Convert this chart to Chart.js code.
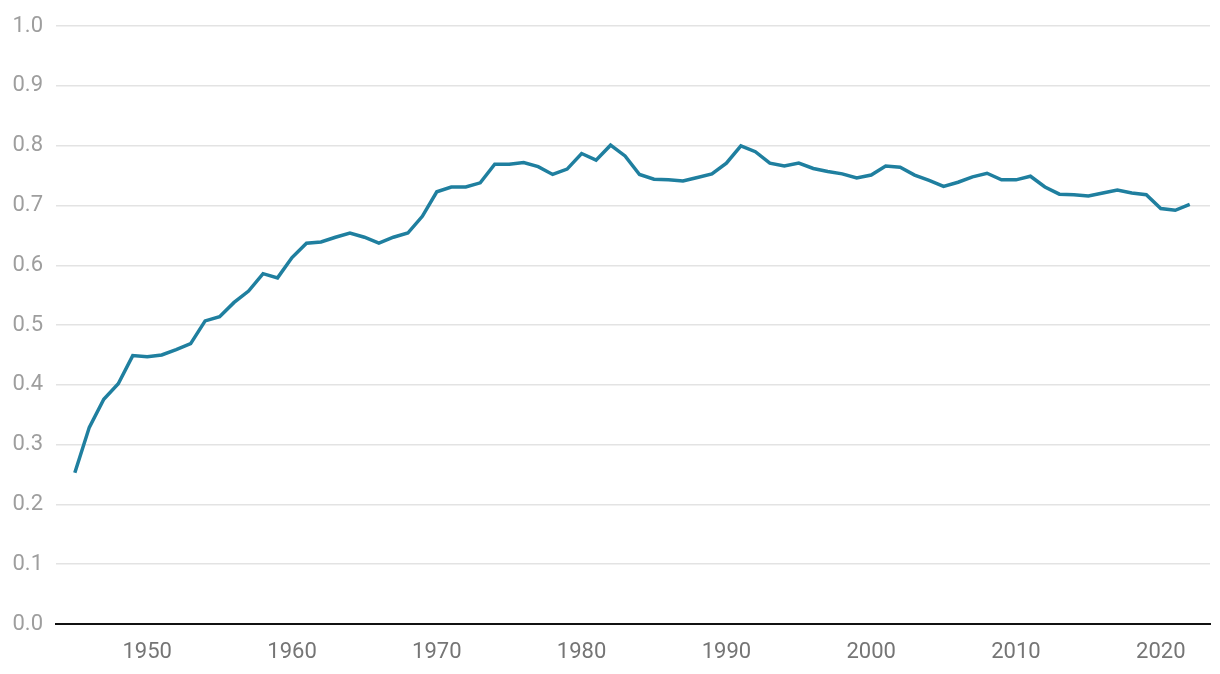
<!DOCTYPE html>
<html>
<head>
<meta charset="utf-8">
<script src="https://cdn.jsdelivr.net/npm/chart.js@4.4.1/dist/chart.umd.min.js"></script>
<style>
  html, body { margin: 0; padding: 0; background: #fff; }
  #wrap { width: 1220px; height: 674px; }
</style>
</head>
<body>
<div id="wrap"><canvas id="chart" width="1220" height="674"></canvas></div>
<script>
var years = [
  1945, 1946, 1947, 1948, 1949, 1950, 1951, 1952, 1953, 1954,
  1955, 1956, 1957, 1958, 1959, 1960, 1961, 1962, 1963, 1964,
  1965, 1966, 1967, 1968, 1969, 1970, 1971, 1972, 1973, 1974,
  1975, 1976, 1977, 1978, 1979, 1980, 1981, 1982, 1983, 1984,
  1985, 1986, 1987, 1988, 1989, 1990, 1991, 1992, 1993, 1994,
  1995, 1996, 1997, 1998, 1999, 2000, 2001, 2002, 2003, 2004,
  2005, 2006, 2007, 2008, 2009, 2010, 2011, 2012, 2013, 2014,
  2015, 2016, 2017, 2018, 2019, 2020, 2021, 2022
];
var values = [
  0.253, 0.329, 0.376, 0.402, 0.449, 0.447, 0.450, 0.459, 0.469, 0.507,
  0.514, 0.538, 0.557, 0.586, 0.579, 0.613, 0.637, 0.639, 0.647, 0.654,
  0.647, 0.637, 0.647, 0.654, 0.682, 0.723, 0.731, 0.731, 0.738, 0.769,
  0.769, 0.772, 0.765, 0.752, 0.761, 0.787, 0.776, 0.801, 0.783, 0.752,
  0.744, 0.743, 0.741, 0.747, 0.753, 0.771, 0.800, 0.790, 0.771, 0.766,
  0.771, 0.762, 0.757, 0.753, 0.746, 0.751, 0.766, 0.764, 0.751, 0.742,
  0.732, 0.739, 0.748, 0.754, 0.743, 0.743, 0.749, 0.731, 0.719, 0.718,
  0.716, 0.721, 0.726, 0.721, 0.718, 0.695, 0.692, 0.702
];
var xTicks = [1950, 1960, 1970, 1980, 1990, 2000, 2010, 2020];
var yTicks = [0, 0.1, 0.2, 0.3, 0.4, 0.5, 0.6, 0.7, 0.8, 0.9, 1.0];

var points = years.map(function (y, i) { return { x: y, y: values[i] }; });

new Chart(document.getElementById("chart"), {
  type: "line",
  data: {
    datasets: [{
      data: points,
      borderColor: "#1f7f9f",
      borderWidth: 3.5,
      pointRadius: 0,
      tension: 0,
      fill: false
    }]
  },
  options: {
    responsive: false,
    animation: false,
    layout: { padding: { top: 23, right: 10, left: 0, bottom: 0 } },
    plugins: { legend: { display: false }, tooltip: { enabled: false } },
    scales: {
      x: {
        type: "linear",
        min: 1943.7,
        max: 2023.4,
        afterFit: function (s) { s.height = 50; },
        afterBuildTicks: function (s) { s.ticks = xTicks.map(function (v) { return { value: v }; }); },
        grid: { display: false, drawTicks: false },
        border: { display: true, color: "#111", width: 2 },
        ticks: {
          padding: 15,
          color: "#757575",
          font: { family: "Roboto", size: 22 },
          callback: function (v) { return String(v); }
        }
      },
      y: {
        min: 0,
        max: 1,
        afterFit: function (s) { s.width = 56; },
        afterBuildTicks: function (s) { s.ticks = yTicks.map(function (v) { return { value: v }; }); },
        grid: { color: "#e3e3e3", lineWidth: 1.5, drawTicks: false },
        border: { display: false },
        ticks: {
          padding: 13,
          color: "#9e9e9e",
          font: { family: "Roboto", size: 22 },
          callback: function (v) { return v.toFixed(1); }
        }
      }
    }
  }
});
</script>
</body>
</html>
